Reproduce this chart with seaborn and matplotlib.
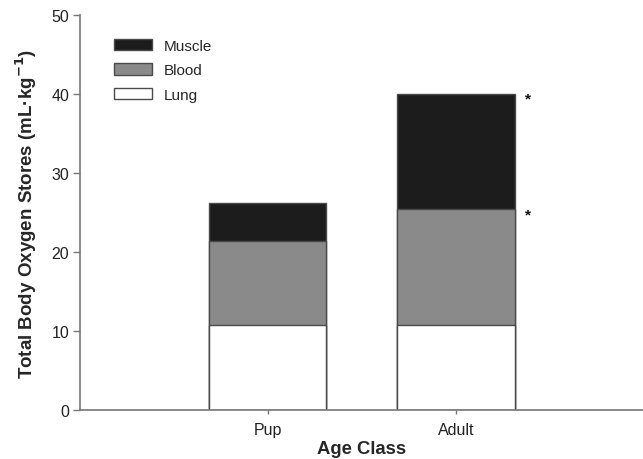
import matplotlib
matplotlib.use("Agg")
import matplotlib.pyplot as plt
import seaborn as sns
import numpy as np
import pandas as pd
from matplotlib.patches import Patch

age_class = ["Pup", "Adult"]
lung = [10.8, 10.8]
blood = [10.6, 14.6]
muscle = [4.8, 14.6]
significant = [(1, "blood"), (1, "muscle")]

sns.set_theme(style="white")
plt.rcParams["font.family"] = ["Liberation Sans", "DejaVu Sans"]

lung_top = np.array(lung)
blood_top = lung_top + np.array(blood)
muscle_top = blood_top + np.array(muscle)

df = pd.DataFrame({
    "age": age_class,
    "lung": lung_top,
    "blood": blood_top,
    "muscle": muscle_top,
})

fig = plt.figure(figsize=(6.43, 4.60), dpi=100)
ax = fig.add_axes([0.125, 0.107, 0.875, 0.858])

edge = "#4a4a4a"
colors = {"muscle": "#1c1c1c", "blood": "#8a8a8a", "lung": "#ffffff"}
for layer in ["muscle", "blood", "lung"]:
    sns.barplot(data=df, x="age", y=layer, color=colors[layer], width=0.625,
                edgecolor=edge, linewidth=1.0, saturation=1, ax=ax)

tops = {"blood": blood_top, "muscle": muscle_top}
for idx, layer in significant:
    ax.text(idx + 0.385, tops[layer][idx] - 0.6, "*", ha="center", va="center",
            fontsize=11, fontweight="bold", color="#111111")

ax.set_xlim(-0.995, 1.995)
ax.set_ylim(0, 50)
ax.set_yticks(range(0, 51, 10))
ax.set_xlabel("Age Class", fontsize=13.3, fontweight="bold", labelpad=2)
ax.set_ylabel("Total Body Oxygen Stores (mL\u00b7kg$^{\\mathbf{-1}}$)",
              fontsize=13.5, fontweight="bold", labelpad=9)

for s in ["top", "right"]:
    ax.spines[s].set_visible(False)
for s in ["left", "bottom"]:
    ax.spines[s].set_color("#777777")
    ax.spines[s].set_linewidth(1.2)
ax.tick_params(axis="y", direction="out", length=5, width=1, color="#777777",
               labelsize=11.5, labelcolor="#222222", left=True, pad=3)
ax.tick_params(axis="x", direction="out", length=3, width=1, color="#777777",
               labelsize=11.5, labelcolor="#222222", bottom=True, pad=6)

handles = [Patch(facecolor=colors[k], edgecolor=edge, linewidth=1.0, label=k.capitalize())
           for k in ["muscle", "blood", "lung"]]
ax.legend(handles=handles, loc="upper left", bbox_to_anchor=(0.035, 0.975),
          frameon=False, fontsize=11, handlelength=2.5, handleheight=0.75,
          labelspacing=0.7, handletextpad=0.8)

fig.savefig("out.png", dpi=100)
